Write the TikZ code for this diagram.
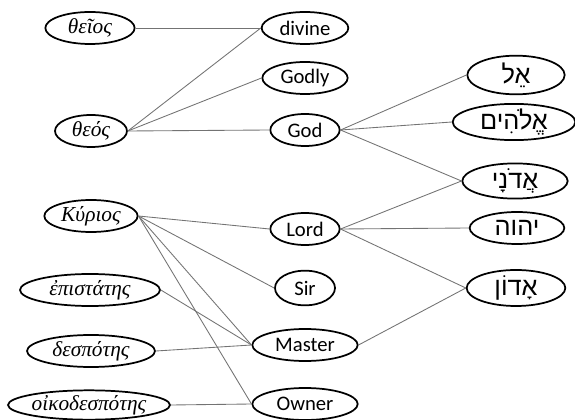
\documentclass[tikz,border=0pt]{standalone}
\usepackage{fontspec, tikz}
\usetikzlibrary{shapes.geometric}
\setmainfont{Carlito}
\newfontfamily\greekfont{Liberation Serif}
\newfontfamily\hebfont[Script=Hebrew]{Liberation Sans}
\TeXXeTstate=1
\tikzset{
word/.style={draw, line width=1.3pt, ellipse, minimum height=24pt, inner sep=0pt,
  font=\fontsize{15.5}{17}\selectfont},
greekword/.style={word, font=\fontsize{16}{18}\selectfont\greekfont\itshape},
hebword/.style={word, font=\fontsize{19}{21}\selectfont\hebfont},
link/.style={draw=gray!90!black, line width=0.65pt}
}

\begin{document}
\begin{tikzpicture}[x=0.75pt, y=-0.75pt]
\useasboundingbox (0,0) rectangle (575,420);
% greek words
\node[greekword, minimum width=67pt] (theios) at (90,28) {θεῖος};
\node[greekword, minimum width=54pt] (theos) at (91,131) {θεός};
\node[greekword, minimum width=70pt] (kyrios) at (91,216) {Κύριος};
\node[greekword, minimum width=105pt] (epistates) at (90,290) {ἐπιστάτης};
\node[greekword, minimum width=96pt] (despotes) at (91,351) {δεσπότης};
\node[greekword, minimum width=121pt, minimum height=22pt] (oikodespotes) at (89,405) {οἰκοδεσπότης};
% english words
\node[word, minimum width=65pt] (divine) at (305,28) {divine};
\node[word, minimum width=64pt] (godly) at (305,78) {Godly};
\node[word, minimum width=52pt] (god) at (305,130) {God};
\node[word, minimum width=52pt] (lord) at (305,229) {Lord};
\node[word, minimum width=45pt, minimum height=26pt] (sir) at (305,288) {Sir};
\node[word, minimum width=79pt] (master) at (305,345) {Master};
\node[word, minimum width=79pt] (owner) at (305,404) {Owner};
% hebrew words
\node[hebword, minimum width=73pt, minimum height=29pt] (el) at (516,75) {\beginR אֵל\endR};
\node[hebword, minimum width=92pt, minimum height=27pt] (elohim) at (514,122) {\beginR אֱלֹהִים\endR};
\node[hebword, minimum width=79pt, minimum height=26pt] (adonai) at (515,181) {\beginR אֲדֹנָי\endR};
\node[hebword, minimum width=71pt] (yhwh) at (517,228) {\beginR יהוה\endR};
\node[hebword, minimum width=74pt, minimum height=27pt] (adon) at (516,288) {\beginR אָדוֹן\endR};
% links
\draw[link] (theios.east) -- (divine.west);
\draw[link] (theos.east) -- (divine.west);
\draw[link] (theos.east) -- (godly.west);
\draw[link] (theos.east) -- (god.west);
\draw[link] (kyrios.east) -- (lord.west);
\draw[link] (kyrios.east) -- (sir.west);
\draw[link] (kyrios.east) -- (master.west);
\draw[link] (kyrios.east) -- (owner.west);
\draw[link] (epistates.east) -- (master.west);
\draw[link] (despotes.east) -- (master.west);
\draw[link] (oikodespotes.east) -- (owner.west);
\draw[link] (god.east) -- (el.west);
\draw[link] (god.east) -- (elohim.west);
\draw[link] (god.east) -- (adonai.west);
\draw[link] (lord.east) -- (adonai.west);
\draw[link] (lord.east) -- (yhwh.west);
\draw[link] (lord.east) -- (adon.west);
\draw[link] (master.east) -- (adon.west);
\end{tikzpicture}
\end{document}
